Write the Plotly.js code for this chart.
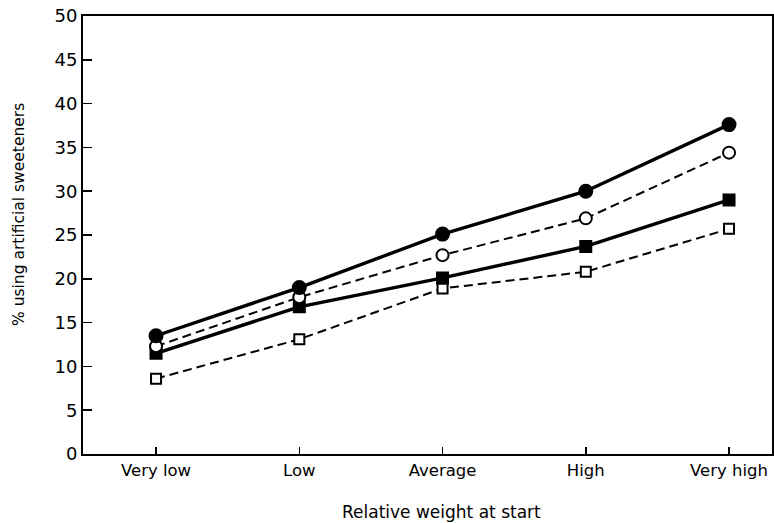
<!DOCTYPE html>
<html>
<head>
<meta charset="utf-8">
<script src="https://cdn.plot.ly/plotly-3.0.1.min.js"></script>
<style>html,body{margin:0;padding:0;background:#fff;}#chart{width:774px;height:523px;}</style>
</head>
<body>
<div id="chart"></div>
<script>
const categories = ["Very low", "Low", "Average", "High", "Very high"];
const filledCircle = [13.5, 19.0, 25.1, 30.0, 37.6];
const openCircle = [12.3, 17.9, 22.7, 26.9, 34.4];
const filledSquare = [11.5, 16.8, 20.1, 23.7, 29.0];
const openSquare = [8.6, 13.1, 18.9, 20.8, 25.7];
const yTicks = [0, 5, 10, 15, 20, 25, 30, 35, 40, 45, 50];
const xTitle = "Relative weight at start";
const yTitle = "% using artificial sweeteners";

const font = "DejaVu Sans, sans-serif";
function tr(y, symbol, filled, dash, width, size) {
  return {
    x: categories, y: y, type: "scatter", mode: "lines+markers",
    line: {color: "#000", width: width, dash: dash},
    marker: {symbol: symbol, size: size, color: filled ? "#000" : "#fff",
             line: {color: "#000", width: 2}},
    cliponaxis: false
  };
}
const data = [
  tr(openSquare, "square", false, "9px,5px", 2, 10),
  tr(filledSquare, "square", true, "solid", 3.4, 11),
  tr(openCircle, "circle", false, "9px,5px", 2, 12),
  tr(filledCircle, "circle", true, "solid", 3.4, 13)
];
const layout = {
  width: 774, height: 523,
  margin: {l: 83, r: 2, t: 16, b: 69},
  paper_bgcolor: "#fff", plot_bgcolor: "#fff",
  showlegend: false,
  font: {family: font, color: "#000", size: 15},
  xaxis: {
    type: "category", range: [-0.51, 4.3],
    showline: true, linecolor: "#000", linewidth: 2, mirror: true,
    ticks: "inside", ticklen: 7, tickwidth: 1.5, tickcolor: "#000",
    showgrid: false, zeroline: false,
    tickfont: {family: font, size: 16.5}
  },
  yaxis: {
    range: [0, 50], tickvals: yTicks, ticktext: yTicks.map(String),
    showline: true, linecolor: "#000", linewidth: 2, mirror: true,
    ticks: "inside", ticklen: 9, tickwidth: 1.5, tickcolor: "#000",
    showgrid: false, zeroline: false,
    tickfont: {family: font, size: 18}
  },
  annotations: [
    {text: xTitle, xref: "paper", yref: "paper", x: (441 - 83) / 689, y: -(512 - 454) / 438,
     xanchor: "center", yanchor: "middle", showarrow: false, font: {family: font, size: 17}},
    {text: yTitle, xref: "paper", yref: "paper", x: -(83 - 19) / 689, y: (454 - 215) / 438,
     xanchor: "center", yanchor: "middle", textangle: -90, showarrow: false, font: {family: font, size: 15.5}}
  ]
};
Plotly.newPlot("chart", data, layout, {displayModeBar: false, staticPlot: true});
</script>
</body>
</html>
